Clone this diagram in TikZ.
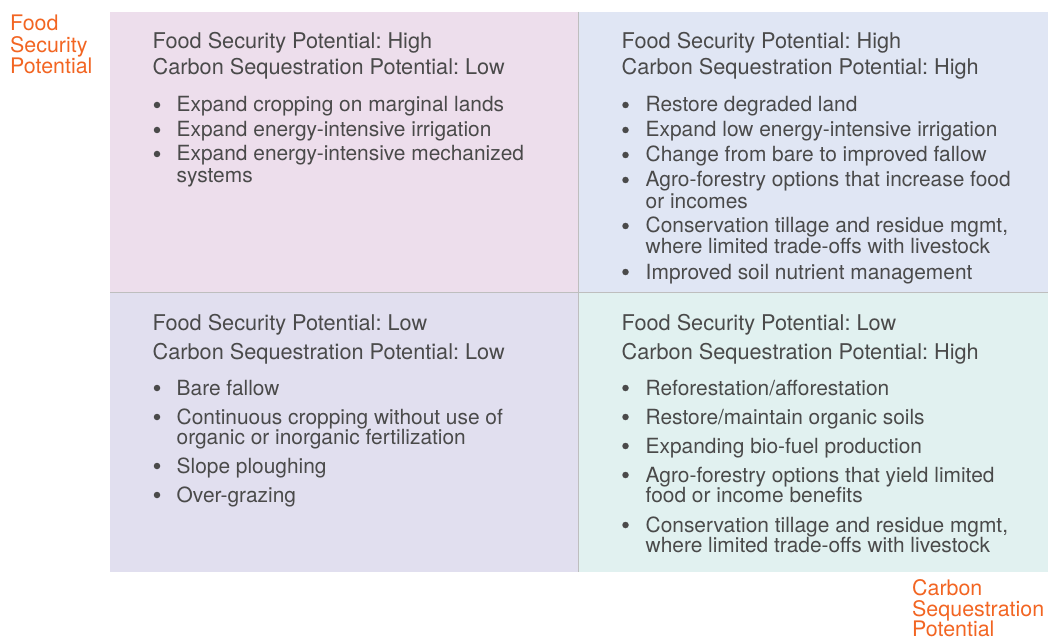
\documentclass[tikz,border=0pt]{standalone}
\usepackage{fontspec}
\setmainfont{TeX Gyre Heros}
\frenchspacing
\definecolor{txt}{HTML}{4A4A4A}
\definecolor{orangec}{HTML}{F26522}
\definecolor{qtl}{HTML}{EDDEEC}
\definecolor{qtr}{HTML}{E0E6F4}
\definecolor{qbl}{HTML}{E1DFEF}
\definecolor{qbr}{HTML}{E1F1F0}
\definecolor{divc}{HTML}{BEBEBE}
\begin{document}
\begin{tikzpicture}[x=1pt,y=-1pt,
  head/.style={anchor=base west, inner sep=0pt, text=txt, font=\fontsize{21.7}{26}\selectfont},
  itemtext/.style={anchor=base west, inner sep=0pt, text=txt, font=\fontsize{20.9}{25}\selectfont},
  dotb/.style={circle, fill=txt, inner sep=0pt, minimum size=6.5pt},
  axislab/.style={anchor=base west, inner sep=0pt, text=orangec, font=\fontsize{21.4}{21}\selectfont},
  divider/.style={draw=divc, line width=1.4pt}]
\useasboundingbox (0,0) rectangle (1052,639);
% quadrants
\fill[qtl] (110,12) rectangle (578.5,292.5);
\fill[qtr] (578.5,12) rectangle (1048,292.5);
\fill[qbl] (110,292.5) rectangle (578.5,572);
\fill[qbr] (578.5,292.5) rectangle (1048,572);
\coordinate (vt) at (578.5,12);
\coordinate (vb) at (578.5,572);
\coordinate (hl) at (110,292.5);
\coordinate (hr) at (1048,292.5);
\draw[divider] (vt) -- (vb);
\draw[divider] (hl) -- (hr);
% axis labels
\node[axislab] (fs1) at (10,31) {Food};
\node[axislab] (fs2) at (10,52.5) {Security};
\node[axislab] (fs3) at (10,73.5) {Potential};
\node[axislab] (cs1) at (912,595.5) {Carbon};
\node[axislab] (cs2) at (912,616) {Sequestration};
\node[axislab] (cs3) at (912,636.5) {Potential};
% top-left
\node[head] (tlh1) at (152.5,49) {Food Security Potential: High};
\node[head] (tlh2) at (152.5,75) {Carbon Sequestration Potential: Low};
\node[dotb] (tld1) at (157,105) {};
\node[itemtext] (tli1) at (176.5,112) {Expand cropping on marginal lands};
\node[dotb] (tld2) at (157,130) {};
\node[itemtext] (tli2) at (176.5,137) {Expand energy-intensive irrigation};
\node[dotb] (tld3) at (157,154) {};
\node[itemtext] (tli3a) at (176.5,161) {Expand energy-intensive mechanized};
\node[itemtext] (tli3b) at (176.5,183) {systems};
% top-right
\node[head] (trh1) at (621.5,49) {Food Security Potential: High};
\node[head] (trh2) at (621.5,75) {Carbon Sequestration Potential: High};
\node[dotb] (trd1) at (625.5,105) {};
\node[itemtext] (tri1) at (645.5,112) {Restore degraded land};
\node[dotb] (trd2) at (625.5,130) {};
\node[itemtext] (tri2) at (645.5,137) {Expand low energy-intensive irrigation};
\node[dotb] (trd3) at (625.5,155) {};
\node[itemtext] (tri3) at (645.5,162) {Change from bare to improved fallow};
\node[dotb] (trd4) at (625.5,180) {};
\node[itemtext] (tri4a) at (645.5,187) {Agro-forestry options that increase food};
\node[itemtext] (tri4b) at (645.5,208) {or incomes};
\node[dotb] (trd5) at (625.5,226) {};
\node[itemtext] (tri5a) at (645.5,233) {Conservation tillage and residue mgmt,};
\node[itemtext] (tri5b) at (645.5,254) {where limited trade-offs with livestock};
\node[dotb] (trd6) at (625.5,272) {};
\node[itemtext] (tri6) at (645.5,279) {Improved soil nutrient management};
% bottom-left
\node[head] (blh1) at (152.5,330) {Food Security Potential: Low};
\node[head] (blh2) at (152.5,359) {Carbon Sequestration Potential: Low};
\node[dotb] (bld1) at (157,388) {};
\node[itemtext] (bli1) at (176.5,395) {Bare fallow};
\node[dotb] (bld2) at (157,417) {};
\node[itemtext] (bli2a) at (176.5,424) {Continuous cropping without use of};
\node[itemtext] (bli2b) at (176.5,444.5) {organic or inorganic fertilization};
\node[dotb] (bld3) at (157,466) {};
\node[itemtext] (bli3) at (176.5,473) {Slope ploughing};
\node[dotb] (bld4) at (157,495) {};
\node[itemtext] (bli4) at (176.5,502) {Over-grazing};
% bottom-right
\node[head] (brh1) at (621.5,330) {Food Security Potential: Low};
\node[head] (brh2) at (621.5,359) {Carbon Sequestration Potential: High};
\node[dotb] (brd1) at (625.5,388) {};
\node[itemtext] (bri1) at (645.5,395) {Reforestation/afforestation};
\node[dotb] (brd2) at (625.5,417) {};
\node[itemtext] (bri2) at (645.5,424) {Restore/maintain organic soils};
\node[dotb] (brd3) at (625.5,446) {};
\node[itemtext] (bri3) at (645.5,453) {Expanding bio-fuel production};
\node[dotb] (brd4) at (625.5,475) {};
\node[itemtext] (bri4a) at (645.5,482) {Agro-forestry options that yield limited};
\node[itemtext] (bri4b) at (645.5,502) {food or income benefits};
\node[dotb] (brd5) at (625.5,525) {};
\node[itemtext] (bri5a) at (645.5,532) {Conservation tillage and residue mgmt,};
\node[itemtext] (bri5b) at (645.5,552.5) {where limited trade-offs with livestock};
\end{tikzpicture}
\end{document}
